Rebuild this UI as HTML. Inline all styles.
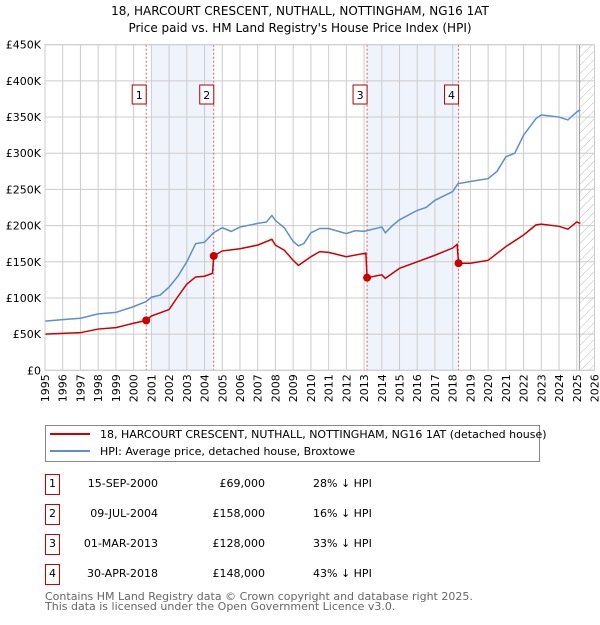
<!DOCTYPE html>
<html><head><meta charset="utf-8"><style>
body{margin:0;background:#fff;font-family:"Liberation Sans","DejaVu Sans",sans-serif;}
svg text{font-family:"DejaVu Sans","Liberation Sans",sans-serif;}
</style></head><body>
<svg id="c" width="600" height="620" viewBox="0 0 600 620">
<defs><pattern id="hatch" width="6" height="6" patternUnits="userSpaceOnUse" patternTransform="rotate(45)"><line x1="0" y1="0" x2="0" y2="6" stroke="#bbb" stroke-width="1"/></pattern></defs>
<text x="300" y="15" text-anchor="middle" font-size="12">18, HARCOURT CRESCENT, NUTHALL, NOTTINGHAM, NG16 1AT</text>
<text x="300" y="32" text-anchor="middle" font-size="12">Price paid vs. HM Land Registry's House Price Index (HPI)</text>
<g id="plot"></g>
<rect x="45.5" y="425.5" width="494" height="36" fill="#fff" stroke="#888"/>
<line x1="50" y1="434" x2="90" y2="434" stroke="#cc0000" stroke-width="2"/>
<text x="100" y="438" font-size="11">18, HARCOURT CRESCENT, NUTHALL, NOTTINGHAM, NG16 1AT (detached house)</text>
<line x1="50" y1="451" x2="90" y2="451" stroke="#5b8fd0" stroke-width="2"/>
<text x="100" y="455" font-size="11">HPI: Average price, detached house, Broxtowe</text>
<g id="tbl" font-size="11"></g>
<text x="45" y="600" font-size="11" fill="#666">Contains HM Land Registry data © Crown copyright and database right 2025.</text>
<text x="45" y="610" font-size="11" fill="#666">This data is licensed under the Open Government Licence v3.0.</text>
</svg>
<script>
const hpiYears=[1995,1996,1997,1998,1999,2000,2000.7,2001,2001.5,2002,2002.5,2003,2003.5,2004,2004.5,2005,2005.5,2006,2007,2007.5,2007.8,2008,2008.5,2009,2009.3,2009.6,2010,2010.5,2011,2012,2012.5,2013,2013.5,2014,2014.2,2014.6,2015,2016,2016.5,2017,2018,2018.3,2019,2020,2020.5,2021,2021.5,2022,2022.7,2023,2024,2024.5,2025,2025.2];
const hpiValues=[68,70,72,78,80,88,95,101,104,115,130,150,175,177,190,197,192,198,203,205,214,207,197,178,172,175,190,196,196,189,193,192,195,198,190,200,208,221,225,235,247,258,261,265,275,295,300,325,348,353,350,346,357,360];
const ppYears=[1995,1997,1998,1999,2000,2000.71,2001,2002,2002.5,2003,2003.5,2004,2004.45,2004.52,2005,2006,2007,2007.8,2008,2008.5,2009,2009.3,2010,2010.5,2011,2012,2013.1,2013.17,2014,2014.2,2015,2016,2017,2018,2018.25,2018.33,2019,2020,2021,2022,2022.7,2023,2024,2024.5,2025,2025.2];
const ppValues=[50,52,57,59,65,69,75,84,102,119,129,130,134,158,165,168,173,181,173,166,152,145,157,164,163,157,162,128,132,127,141,150,159,169,174,148,148,152,171,187,201,202,199,195,205,203];
const saleYears=[2000.71,2004.52,2013.17,2018.33];
const saleValues=[69,158,128,148];
const saleLabels=["1","2","3","4"];
const saleDates=["15-SEP-2000","09-JUL-2004","01-MAR-2013","30-APR-2018"];
const salePrices=["£69,000","£158,000","£128,000","£148,000"];
const saleDiffs=["28% ↓ HPI","16% ↓ HPI","33% ↓ HPI","43% ↓ HPI"];
const shadeStarts=[2001,2013.17];
const shadeEnds=[2004.52,2018.33];
const yTicks=[0,50,100,150,200,250,300,350,400,450];
const yTickLabels=["£0","£50K","£100K","£150K","£200K","£250K","£300K","£350K","£400K","£450K"];
const xTicks=[1995,1996,1997,1998,1999,2000,2001,2002,2003,2004,2005,2006,2007,2008,2009,2010,2011,2012,2013,2014,2015,2016,2017,2018,2019,2020,2021,2022,2023,2024,2025,2026];

const X0=45,X1=594.5,Y0=370.3,Y1=44.7;
const xs=y=>X0+(y-1995)/(2026-1995)*(X1-X0);
const ys=v=>Y0-v/450*(Y0-Y1);
const NS="http://www.w3.org/2000/svg";
const plot=document.getElementById('plot');
function mk(tag,attrs,parent){const e=document.createElementNS(NS,tag);for(const k in attrs)e.setAttribute(k,attrs[k]);(parent||plot).appendChild(e);return e;}

shadeStarts.forEach((s,i)=>{
  const r=mk('rect',{x:xs(s),y:Y1,width:xs(shadeEnds[i])-xs(s),height:Y0-Y1,fill:'#eef3fc'});
  
  
});
const h=mk('rect',{x:xs(2025.15),y:Y1,width:X1-xs(2025.15),height:Y0-Y1,fill:'url(#hatch)'});


yTicks.forEach((v,i)=>{
  const l=mk('line',{x1:X0,x2:X1,y1:ys(v),y2:ys(v),stroke:'#ccc'});
  
  
  const t=mk('text',{x:X0-4,y:ys(v)+4,'text-anchor':'end','font-size':'11'});
  t.textContent=yTickLabels[i];
  
  
});
xTicks.forEach(yr=>{
  const l=mk('line',{x1:xs(yr),x2:xs(yr),y1:Y1,y2:Y0,stroke:'#ccc'});
  
  
  const t=mk('text',{x:0,y:0,'text-anchor':'end','font-size':'11',transform:`translate(${xs(yr)+4},${Y0+4}) rotate(-90)`});
  t.textContent=yr;
  
  
});
const vl=mk('line',{x1:xs(2025.15),x2:xs(2025.15),y1:Y1,y2:Y0,stroke:'#999'});


saleYears.forEach((yr,i)=>{
  const l=mk('line',{x1:xs(yr),x2:xs(yr),y1:Y1,y2:Y0,stroke:'#e06060','stroke-dasharray':'2,2'});
  
  
  const b=mk('rect',{x:xs(yr)-14,y:85,width:14,height:19,fill:'#fff',stroke:'#b00000'});
  
  
  const t=mk('text',{x:xs(yr)-7,y:99,'text-anchor':'middle','font-size':'11'});
  t.textContent=saleLabels[i];
  
  
});
const hp=mk('polyline',{points:hpiYears.map((y,i)=>xs(y)+','+ys(hpiValues[i])).join(' '),fill:'none',stroke:'#5b8fd0','stroke-width':'1.5'});


const pp=mk('polyline',{points:ppYears.map((y,i)=>xs(y)+','+ys(ppValues[i])).join(' '),fill:'none',stroke:'#cc0000','stroke-width':'1.5'});


saleYears.forEach((yr,i)=>{
  const c=mk('circle',{cx:xs(yr),cy:ys(saleValues[i]),r:4,fill:'#cc0000'});
  
  
});
mk('rect',{x:X0,y:Y1,width:X1-X0,height:Y0-Y1,fill:'none',stroke:'#ccc'});
const tbl=document.getElementById('tbl');
const rowY=[483,513,543,573];
saleLabels.forEach((lab,i)=>{
  const y=rowY[i];
  const b=mk('rect',{x:45.5,y:y-8.5,width:14,height:20,fill:'#fff',stroke:'#cc0000'},tbl);
  
  
  const t0=mk('text',{x:52.5,y:y+4,'text-anchor':'middle'},tbl);t0.textContent=lab;
  
  
  const t1=mk('text',{x:158,y:y+4,'text-anchor':'end'},tbl);t1.textContent=saleDates[i];
  
  
  const t2=mk('text',{x:265,y:y+4,'text-anchor':'end'},tbl);t2.textContent=salePrices[i];
  
  
  const t3=mk('text',{x:313,y:y+4},tbl);t3.textContent=saleDiffs[i];
  
  
});
</script>
</body></html>
